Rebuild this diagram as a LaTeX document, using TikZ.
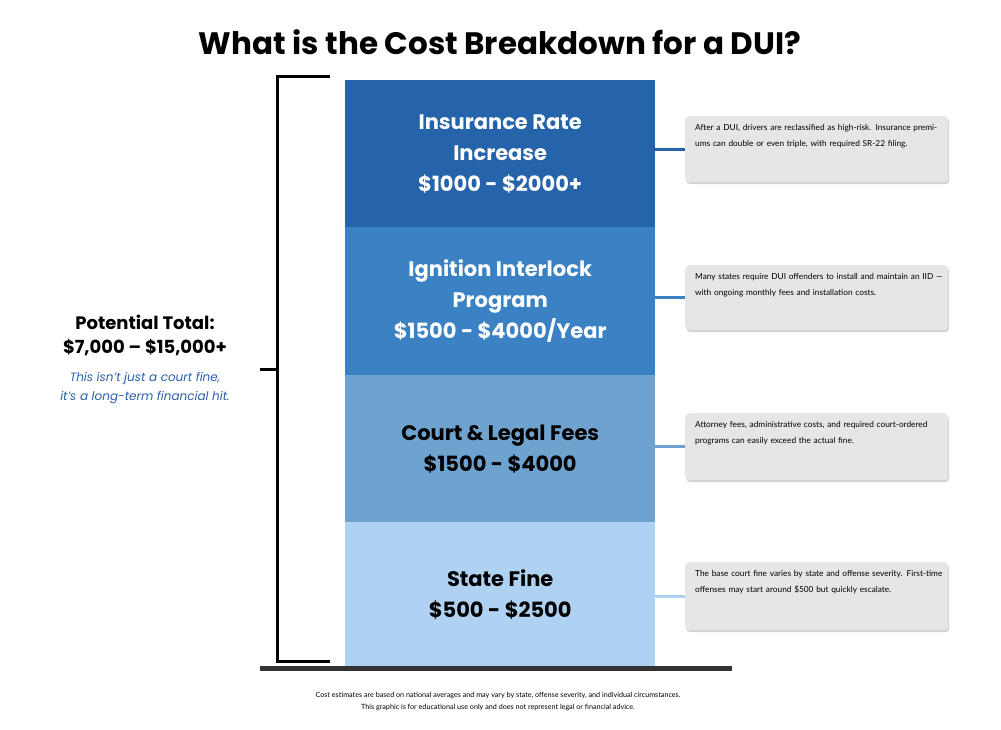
\documentclass[tikz,border=0pt]{standalone}
\usepackage{fontspec}
\setmainfont{Poppins}
\newfontfamily\smallf{Lato}
\usetikzlibrary{shadows}
\definecolor{cA}{HTML}{2563AA}
\definecolor{cB}{HTML}{3A82C4}
\definecolor{cC}{HTML}{6FA3CF}
\definecolor{cD}{HTML}{B0D2F2}
\definecolor{bx}{HTML}{E6E6E6}
\definecolor{blu}{HTML}{2A5FA8}
\tikzset{
 seg/.style={minimum width=310pt,inner sep=0pt,anchor=north west,align=center,font=\fontsize{21}{31}\selectfont\bfseries},
 info/.style={fill=bx,rounded corners=4pt,minimum width=263pt,anchor=north west,inner sep=0pt,
   drop shadow={shadow xshift=1pt,shadow yshift=-2pt,opacity=0.35}},
 infot/.style={anchor=north west,align=left,font=\smallf\fontsize{8.3}{16.5}\selectfont,text width=250pt,inner sep=0pt},
 conn/.style={line width=3pt},
 brk/.style={line width=3pt,black}
}
\begin{document}
\begin{tikzpicture}[x=1pt,y=-1pt]
\useasboundingbox (0,0) rectangle (1001,730);
\node (title) at (500,42) {\fontsize{31}{36}\selectfont\bfseries What is the Cost Breakdown for a DUI?};
% segments
\node[seg,fill=cA,minimum height=147pt,text=white] (s1) at (345,80) {Insurance Rate\\Increase\\\$1000 - \$2000+};
\node[seg,fill=cB,minimum height=148pt,text=white] (s2) at (345,227) {Ignition Interlock\\Program\\\$1500 - \$4000/Year};
\node[seg,fill=cC,minimum height=147pt,text=black] (s3) at (345,375) {Court \& Legal Fees\\\$1500 - \$4000};
\node[seg,fill=cD,minimum height=144pt,text=black] (s4) at (345,522) {State Fine\\\$500 - \$2500};
\draw[line width=5pt,black!80] (260,668) -- (732,668);
% bracket
\coordinate (bt) at (330,77); \coordinate (bb) at (330,661);
\draw[brk] (bt) -- (277,77) -- (277,661) -- (bb);
\coordinate (bm) at (277,369); \coordinate (bl) at (260,369);
\draw[brk] (bm) -- (bl);
% left text
\node (pt) at (145,322) {\fontsize{18}{20}\selectfont\bfseries Potential Total:};
\node (pv) at (145,348) {\fontsize{18}{20}\selectfont\bfseries \$7,000 – \$15,000+};
\node[align=center,text=blu,font=\fontsize{12}{19}\selectfont\itshape] (pi) at (145,388) {This isn’t just a court fine,\\it’s a long-term financial hit.};
% info boxes
\node[info,minimum height=66pt] (i1) at (685,116) {};
\node[infot] at (695,124) {After a DUI, drivers are reclassified as high-risk. Insurance premiums can double or even triple, with required SR-22 filing.};
\node[info,minimum height=65pt] (i2) at (685,265) {};
\node[infot] at (695,273) {Many states require DUI offenders to install and maintain an IID — with ongoing monthly fees and installation costs.};
\node[info,minimum height=67pt] (i3) at (685,413) {};
\node[infot] at (695,421) {Attorney fees, administrative costs, and required court-ordered programs can easily exceed the actual fine.};
\node[info,minimum height=68pt] (i4) at (685,562) {};
\node[infot] at (695,570) {The base court fine varies by state and offense severity. First-time offenses may start around \$500 but quickly escalate.};
\draw[conn,cA] (s1.east |- i1.west) -- (i1.west);
\draw[conn,cB] (s2.east |- i2.west) -- (i2.west);
\draw[conn,cC] (s3.east |- i3.west) -- (i3.west);
\draw[conn,cD] (s4.east |- i4.west) -- (i4.west);
% footer
\node[align=center,font=\smallf\fontsize{7.2}{12}\selectfont] (ft) at (498,701) {Cost estimates are based on national averages and may vary by state, offense severity, and individual circumstances.\\This graphic is for educational use only and does not represent legal or financial advice.};
\end{tikzpicture}
\end{document}
